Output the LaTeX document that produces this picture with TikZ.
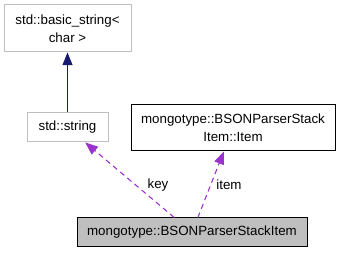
\documentclass[tikz,border=0pt]{standalone}
\usepackage{fontspec}
\setmainfont{Liberation Sans}
\usepackage{tikz}
\usetikzlibrary{arrows.meta}
\usetikzlibrary{positioning}
\definecolor{mgrey}{HTML}{BFBFBF}
\definecolor{mnavy}{HTML}{191970}
\definecolor{mpurple}{HTML}{9A32CD}
\tikzset{classbox/.style = {draw=mgrey, line width=0.75pt, align=center, inner sep=0pt,
                            font=\fontsize{10}{13.5}\selectfont},
         docbox/.style   = {classbox, draw=black},
         mainbox/.style  = {classbox, draw=black, fill=mgrey},
         inherit/.style  = {draw=mnavy, line width=0.8pt,
                            -{Triangle[length=9.5pt, width=7.5pt]}},
         usage/.style    = {draw=mpurple, line width=0.8pt, dash pattern=on 4pt off 3pt,
                            -{Triangle[length=9.5pt, width=7.5pt]}},
         edgelabel/.style = {font=\fontsize{10}{12}\selectfont}}

\begin{document}
\begin{tikzpicture}[x=0.75pt, y=-0.75pt]
    \useasboundingbox (0, 0) rectangle (340, 253);

    \node [classbox, minimum width=127*0.75pt, minimum height=47*0.75pt] (basic) at (67.5, 28.5)
        {std::basic\_string\textless\\char \textgreater};
    \node [classbox, minimum width=81*0.75pt, minimum height=29*0.75pt] (string) at (67.5, 127.5)
        {std::string};
    \node [docbox, minimum width=204*0.75pt, minimum height=46*0.75pt] (item) at (233, 128)
        {mongotype::BSONParserStack\\Item::Item};
    \node [mainbox, minimum width=230*0.75pt, minimum height=29*0.75pt] (main) at (192, 232.5)
        {mongotype::BSONParserStackItem};

    \draw [inherit] (string) -- (basic);
    \draw [usage] (main) -- (string);
    \draw [usage] (main) -- (item);

    \node [edgelabel] (keylabel) at (158, 185) {key};
    \node [edgelabel] (itemlabel) at (229, 185) {item};
  \end{tikzpicture}
\end{document}
